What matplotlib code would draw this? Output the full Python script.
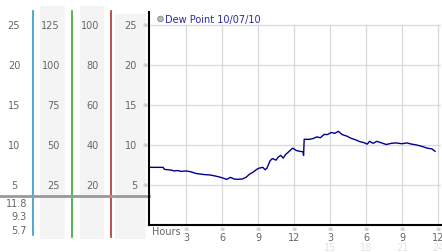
import matplotlib.pyplot as plt
import matplotlib.transforms as mtrans
from matplotlib.patches import Rectangle, Circle

# dew point readings (hour of day, deg C)
hours = [0, 1.1, 1.2, 1.5, 1.8, 2.0, 2.3, 2.6, 3.0, 3.4, 3.8, 4.0, 4.5, 5.0, 5.5, 5.9,
         6.2, 6.4, 6.7, 7.0, 7.3, 7.7, 8.0, 8.3, 8.6, 8.9, 9.1, 9.4, 9.6, 9.75, 10.0,
         10.2, 10.5, 10.7, 10.9, 11.1, 11.3, 11.6, 11.9, 12.2, 12.5, 12.75, 12.8, 12.85,
         13.3, 13.6, 13.9, 14.2, 14.5, 14.8, 15.1, 15.4, 15.7, 16.0, 16.4, 16.8, 17.2,
         17.5, 17.8, 18.1, 18.3, 18.6, 18.9, 19.3, 19.7, 20.1, 20.5, 21.0, 21.4, 21.8,
         22.2, 22.7, 23.1, 23.5, 23.75]
dew = [7.2, 7.2, 6.95, 6.9, 6.85, 6.75, 6.8, 6.7, 6.75, 6.65, 6.45, 6.4, 6.3, 6.25, 6.1, 5.95,
       5.8, 5.7, 5.95, 5.75, 5.7, 5.75, 5.95, 6.35, 6.6, 6.95, 7.1, 7.2, 6.9, 7.1, 8.0,
       8.3, 8.1, 8.5, 8.7, 8.35, 8.8, 9.2, 9.6, 9.3, 9.2, 9.15, 8.7, 10.7,
       10.7, 10.8, 11.0, 10.9, 11.3, 11.3, 11.55, 11.45, 11.7, 11.3, 11.1, 10.8, 10.6,
       10.4, 10.3, 10.1, 10.45, 10.2, 10.45, 10.25, 10.05, 10.2, 10.25, 10.15, 10.25, 10.1,
       10.0, 9.8, 9.6, 9.5, 9.2]

xticks = [3, 6, 9, 12, 15, 18, 21, 24]
xlabels = ['3', '6', '9', '12', '3', '6', '9', '12']
xlabels2 = ['', '', '', '', '15', '18', '21', '24']
yticks = [5, 10, 15, 20, 25]
col1 = [25, 20, 15, 10, 5]
col2 = [125, 100, 75, 50, 25]
col3 = [100, 80, 60, 40, 20]
stats = ['11.8', '9.3', '5.7']
title = 'Dew Point 10/07/10'

W, H = 442, 253
fig = plt.figure(figsize=(W / 100, H / 100), dpi=100)
fig.patch.set_facecolor('white')

# background overlay in pixel coordinates
bg = fig.add_axes([0, 0, 1, 1], zorder=0)
bg.set_xlim(0, W)
bg.set_ylim(H, 0)
bg.axis('off')

ax = fig.add_axes([149 / W, 27 / H, 292 / W, 213 / H], zorder=1)
ax.patch.set_alpha(0)
ax.set_xlim(-0.08, 24.25)
ax.set_ylim(0, 26.6)

grid = '#d9d9d9'
for y in yticks:
    ax.axhline(y, color=grid, lw=0.9, zorder=1)
ax.vlines(xticks, 0, 25.15, color=grid, lw=0.9, zorder=1)
ax.plot(hours, dew, color='#000090', lw=1.0, zorder=3)

for s in ['top', 'right']:
    ax.spines[s].set_visible(False)
for s in ['left', 'bottom']:
    ax.spines[s].set_color('black')
    ax.spines[s].set_linewidth(1.5)
ax.set_xticks([])
ax.set_yticks([])

lbl = '#666666'
fs = 7
mk = '#a0a0a0'
bx = mtrans.blended_transform_factory(ax.transData, bg.transData)
for x, a, b in zip(xticks, xlabels, xlabels2):
    bg.text(x, 230, '≋', transform=bx, ha='center', va='center', fontsize=4.5, color=mk)
    bg.text(x, 238, a, transform=bx, ha='center', va='center', fontsize=fs, color=lbl)
    if b:
        bg.text(x, 248, b, transform=bx, ha='center', va='center', fontsize=fs, color='#e2e2e2')
bg.text(152, 232, 'Hours', ha='left', va='center', fontsize=fs, color=lbl)

# left panel
for x0, x1, y0 in [(40, 65, 7), (80, 104, 7), (115, 146, 15)]:
    bg.add_patch(Rectangle((x0, y0), x1 - x0, 240 - y0, color='#f4f4f4', lw=0))
bg.plot([33, 33], [12, 236], color='#3399cc', lw=1.2)
bg.plot([72, 72], [12, 238], color='#33aa33', lw=1.2)
bg.plot([111, 111], [12, 238], color='#aa3333', lw=1.2)
bg.plot([0, 149], [197, 197], color='#999999', lw=2)

by = mtrans.blended_transform_factory(bg.transData, ax.transData)
for v in col1:
    bg.text(14, v, str(v), transform=by, ha='center', va='center', fontsize=fs, color=lbl)
    bg.text(137, v, str(v), transform=by, ha='right', va='center', fontsize=fs, color=lbl)
    bg.text(145, v, '≋', transform=by, ha='center', va='center', fontsize=4.5, color=mk)
for v in col2:
    bg.text(60, v / 5, str(v), transform=by, ha='right', va='center', fontsize=fs, color=lbl)
for v in col3:
    bg.text(99, v / 4, str(v), transform=by, ha='right', va='center', fontsize=fs, color=lbl)
for i, s in enumerate(stats):
    bg.text(27, 204 + i * 13.5, s, ha='right', va='center', fontsize=fs, color=lbl)

# legend
bg.add_patch(Circle((160.5, 20), 2.8, facecolor='#bbbbbb', edgecolor='#888888', lw=0.6))
bg.text(165, 20, title, ha='left', va='center', fontsize=fs, color='#2a2aa8')

fig.savefig('out.png', dpi=100)
